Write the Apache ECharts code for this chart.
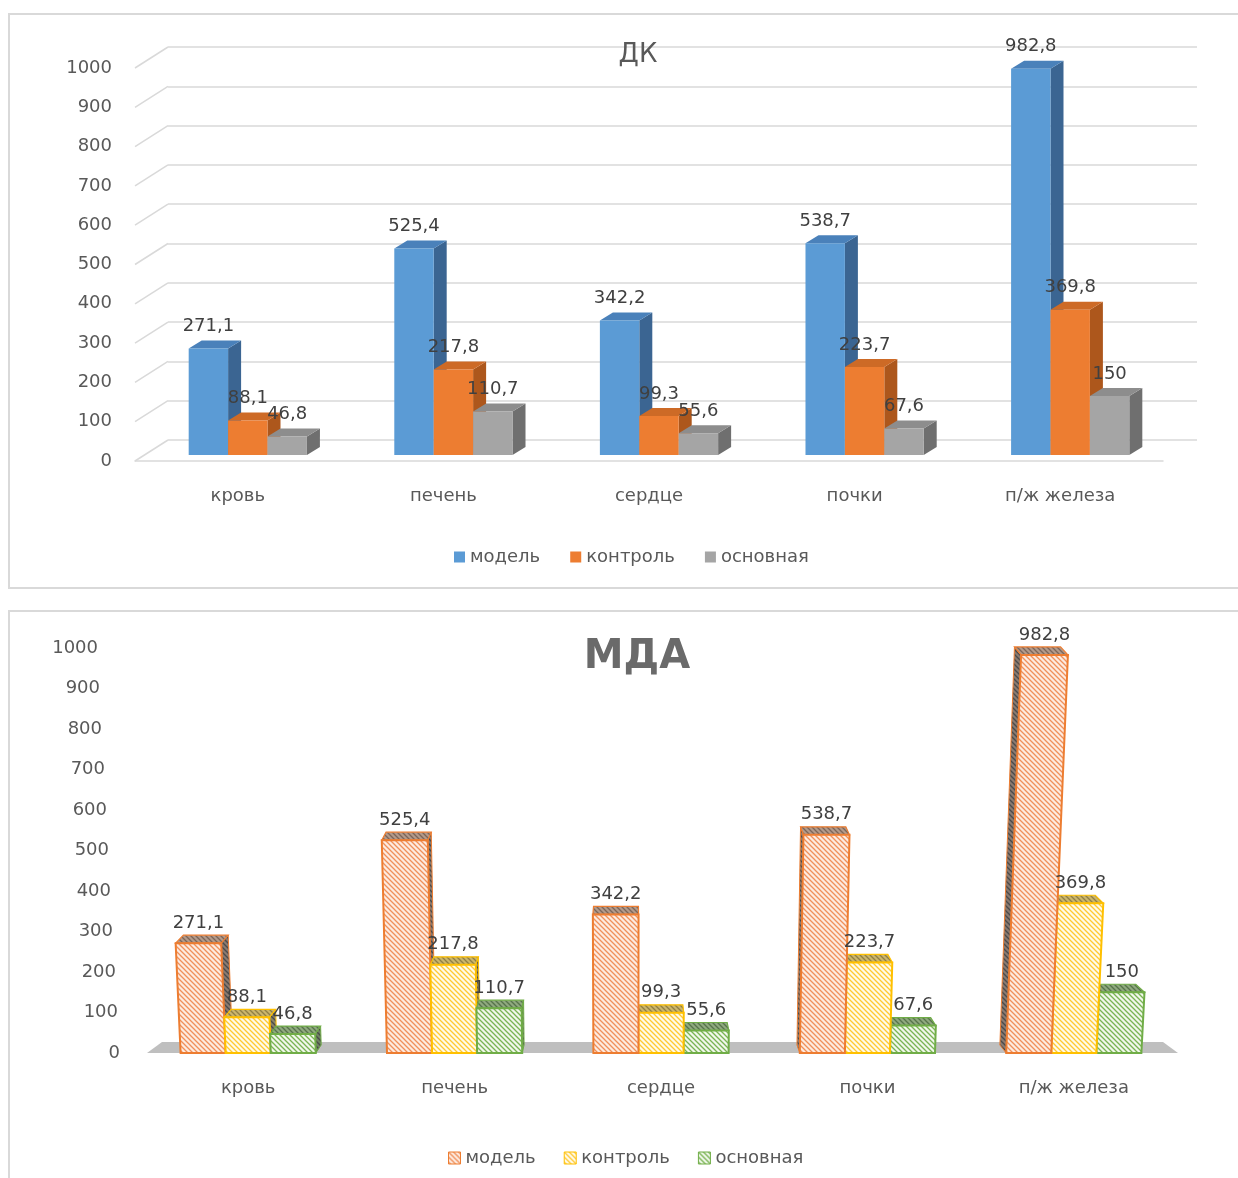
<!DOCTYPE html>
<html>
<head>
<meta charset="utf-8">
<script src="https://cdn.jsdelivr.net/npm/echarts@6/dist/echarts.min.js"></script>
<style>
  html, body { margin: 0; padding: 0; background: #fff; width: 1238px; height: 1178px; overflow: hidden; }
  .frame { position: absolute; border: 2px solid #d9d9d9; box-sizing: border-box; }
  #dk { position: absolute; left: 0; top: 0; width: 1238px; height: 600px; }
  #mda { position: absolute; left: 0; top: 600px; width: 1238px; height: 578px; }
</style>
</head>
<body>
<div class="frame" style="left:8px;top:13px;width:1250px;height:576px;"></div>
<div class="frame" style="left:8px;top:610px;width:1250px;height:590px;"></div>
<div id="dk"></div>
<div id="mda"></div>
<script>
// ---- data ----
const categories = ['кровь', 'печень', 'сердце', 'почки', 'п/ж железа'];
const seriesNames = ['модель', 'контроль', 'основная'];
const yTicks = [0, 100, 200, 300, 400, 500, 600, 700, 800, 900, 1000];

// ДК
const dkModel = [271.1, 525.4, 342.2, 538.7, 982.8];
const dkControl = [88.1, 217.8, 99.3, 223.7, 369.8];
const dkMain = [46.8, 110.7, 55.6, 67.6, 150];

// МДА
const mdaModel = [271.1, 525.4, 342.2, 538.7, 982.8];
const mdaControl = [88.1, 217.8, 99.3, 223.7, 369.8];
const mdaMain = [46.8, 110.7, 55.6, 67.6, 150];

// ---- shared styling ----
const FONT = '"DejaVu Sans", Verdana, sans-serif';
const TXT = '#595959';
const LABEL = '#404040';
const fmt = v => String(v).replace('.', ',');
const toPairs = arr => arr.map((v, i) => [i, v]);

function textEl(x, y, str, size) {
  return {
    type: 'text', z2: 100000,
    style: {
      x: x, y: y, text: str,
      align: 'center', verticalAlign: 'middle',
      textAlign: 'center', textVerticalAlign: 'middle',
      fill: LABEL, font: size + 'px ' + FONT
    }
  };
}

// =====================  ДК : plain 3D columns  =====================
const dkColors = [
  { front: '#5b9bd5', top: '#4a81ba', side: '#3b6592' },
  { front: '#ed7d31', top: '#cd6a26', side: '#ad571c' },
  { front: '#a5a5a5', top: '#8d8d8d', side: '#6f6f6f' }
];
const WALL_DX = 33, WALL_DY = -21;   // back wall offset
const BAR_DX = 10, BAR_DY = -6;      // bar row offset from the front edge
const DEPTH_DX = 13, DEPTH_DY = -8;  // column depth

function dkBar(si) {
  return function (params, api) {
    const cat = api.value(0), v = api.value(1);
    const p0 = api.coord([cat, 0]), p1 = api.coord([cat, v]);
    const w = api.size([1, 0])[0] * 0.575 / 3;
    const xl = p0[0] + BAR_DX - 1.5 * w + si * w, xr = xl + w;
    const yb = p0[1] + BAR_DY, yt = p1[1] + BAR_DY;
    const c = dkColors[si];
    return {
      type: 'group',
      children: [
        { type: 'polygon', shape: { points: [[xr, yb], [xr + DEPTH_DX, yb + DEPTH_DY], [xr + DEPTH_DX, yt + DEPTH_DY], [xr, yt]] }, style: { fill: c.side } },
        { type: 'polygon', shape: { points: [[xl, yt], [xr, yt], [xr + DEPTH_DX, yt + DEPTH_DY], [xl + DEPTH_DX, yt + DEPTH_DY]] }, style: { fill: c.top } },
        { type: 'rect', shape: { x: xl, y: yt, width: w, height: yb - yt }, style: { fill: c.front } },
        textEl((xl + xr) / 2, yt - 22, fmt(v), 18)
      ]
    };
  };
}

const dkChart = echarts.init(document.getElementById('dk'), null, { renderer: 'canvas' });
dkChart.setOption({
  animation: false,
  textStyle: { fontFamily: FONT },
  title: {
    text: 'ДК', left: 633, top: 37, textAlign: 'center',
    textStyle: { fontFamily: FONT, fontSize: 26, fontWeight: 'normal', color: TXT }
  },
  legend: {
    top: 543, left: 449, icon: 'rect', itemWidth: 11, itemHeight: 11, itemGap: 30,
    textStyle: { fontFamily: FONT, fontSize: 18, color: TXT },
    data: seriesNames
  },
  grid: [
    { left: 135, top: 68, width: 1028, height: 393 },   // front plane
    { left: 168, top: 47, width: 1029, height: 393 }    // back wall
  ],
  xAxis: [
    {
      gridIndex: 0, type: 'category', data: categories,
      axisLine: { lineStyle: { color: '#d9d9d9', width: 1.5 } },
      axisTick: { show: false },
      axisLabel: { margin: 26, fontSize: 18, color: TXT, fontFamily: FONT }
    },
    { gridIndex: 1, type: 'value', show: false }
  ],
  yAxis: [
    {
      gridIndex: 0, type: 'value', min: 0, max: 1000, interval: 100,
      axisLine: { show: false }, axisTick: { show: false }, splitLine: { show: false },
      axisLabel: { margin: 23, fontSize: 18, color: TXT, fontFamily: FONT, formatter: v => String(v) }
    },
    {
      gridIndex: 1, type: 'value', min: 0, max: 1000, interval: 100,
      axisLine: { show: false }, axisTick: { show: false }, axisLabel: { show: false },
      splitLine: { lineStyle: { color: '#d9d9d9', width: 1.5 } }
    }
  ],
  series: [
    {
      // slanted edges joining the left end of each gridline to the wall
      type: 'custom', name: 'edges', silent: true, z: 1,
      xAxisIndex: 0, yAxisIndex: 0,
      data: yTicks.map(t => [0, t]),
      renderItem: function (params, api) {
        const y = api.coord([0, api.value(1)])[1];
        const x = params.coordSys.x;
        return { type: 'line', shape: { x1: x, y1: y, x2: x + WALL_DX, y2: y + WALL_DY }, style: { stroke: '#d9d9d9', lineWidth: 1.5 } };
      }
    },
    { type: 'custom', name: seriesNames[0], xAxisIndex: 0, yAxisIndex: 0, itemStyle: { color: dkColors[0].front }, data: toPairs(dkModel), renderItem: dkBar(0) },
    { type: 'custom', name: seriesNames[1], xAxisIndex: 0, yAxisIndex: 0, itemStyle: { color: dkColors[1].front }, data: toPairs(dkControl), renderItem: dkBar(1) },
    { type: 'custom', name: seriesNames[2], xAxisIndex: 0, yAxisIndex: 0, itemStyle: { color: dkColors[2].front }, data: toPairs(dkMain), renderItem: dkBar(2) }
  ]
});

// =====================  МДА : hatched columns in perspective  =====================
function hatch(fg, bg) {
  const s = 5;
  const c = document.createElement('canvas');
  c.width = s; c.height = s;
  const g = c.getContext('2d');
  g.fillStyle = bg; g.fillRect(0, 0, s, s);
  g.strokeStyle = fg; g.lineWidth = 1.3;
  g.beginPath();
  g.moveTo(-1, -1); g.lineTo(s + 1, s + 1);
  g.moveTo(s - 1, -1); g.lineTo(s + 1, 1);
  g.moveTo(-1, s - 1); g.lineTo(1, s + 1);
  g.stroke();
  return { image: c, repeat: 'repeat' };
}

const mdaStyles = [
  { stroke: '#ed7d31', front: hatch('#f0905a', '#fdebe0'), top: hatch('#7c6558', '#b39a8b'), side: hatch('#4a4a4a', '#8a7a70') },
  { stroke: '#ffc000', front: hatch('#ffc933', '#fffbea'), top: hatch('#8f7f45', '#cbb66c'), side: hatch('#4a4a4a', '#8a8466') },
  { stroke: '#70ad47', front: hatch('#7ab453', '#f1f8ec'), top: hatch('#56734a', '#8fa97f'), side: hatch('#4a4a4a', '#6f8462') }
];

const CX = 633;          // horizontal vanishing centre
const LEAN = 1.0e-4;     // outward lean of tall columns
const DEPTH_S = 0.017;   // depth convergence toward the centre
const DEPTH_T = 8;       // vertical depth of the top face

function proj(x, h, d, yBase) {
  const xl = x + (x - CX) * h * LEAN;
  return [xl + (CX - xl) * DEPTH_S * d, yBase - h - DEPTH_T * d];
}

function mdaBar(si) {
  return function (params, api) {
    const cat = api.value(0), v = api.value(1);
    const p0 = api.coord([cat, 0]), p1 = api.coord([cat, v]);
    const w = api.size([1, 0])[0] * 0.655 / 3;
    const xl = p0[0] - 1.5 * w + si * w, xr = xl + w;
    const yb = p0[1], h = p0[1] - p1[1];
    const mid = (xl + xr) / 2;
    const st = mdaStyles[si];
    const xs = mid < CX ? xr : xl;
    const base = Math.round(2000 - Math.abs(mid - CX)) * 4;
    const P = (x, hh, d) => proj(x, hh, d, yb);
    const ft = P(mid, h, 0);
    return {
      type: 'group',
      children: [
        { type: 'polygon', z2: base, shape: { points: [P(xs, 0, 0), P(xs, h, 0), P(xs, h, 1), P(xs, 0, 1)] }, style: { fill: st.side, stroke: st.stroke, lineWidth: 1 } },
        { type: 'polygon', z2: base + 1, shape: { points: [P(xl, h, 0), P(xr, h, 0), P(xr, h, 1), P(xl, h, 1)] }, style: { fill: st.top, stroke: st.stroke, lineWidth: 1.2 } },
        { type: 'polygon', z2: base + 2, shape: { points: [P(xl, 0, 0), P(xr, 0, 0), P(xr, h, 0), P(xl, h, 0)] }, style: { fill: st.front, stroke: st.stroke, lineWidth: 2 } },
        textEl(ft[0], ft[1] - 20, fmt(v), 18)
      ]
    };
  };
}

const yRich = {};
yTicks.forEach(t => {
  yRich['t' + t] = { padding: [0, Math.round(22 * t / 1000), 0, 0], fontSize: 18, color: TXT, fontFamily: FONT };
});

const mdaChart = echarts.init(document.getElementById('mda'), null, { renderer: 'canvas' });
mdaChart.setOption({
  animation: false,
  textStyle: { fontFamily: FONT },
  title: {
    text: 'МДА', left: 632, top: 33, textAlign: 'center',
    textStyle: { fontFamily: FONT, fontSize: 40, fontWeight: 'bold', color: '#6a6a6a' }
  },
  legend: {
    top: 544, left: 443, icon: 'rect', itemWidth: 12, itemHeight: 12, itemGap: 28,
    textStyle: { fontFamily: FONT, fontSize: 18, color: TXT },
    data: seriesNames.map((n, i) => ({
      name: n,
      itemStyle: { color: mdaStyles[i].front, borderColor: mdaStyles[i].stroke, borderWidth: 1 }
    }))
  },
  grid: { left: 145, top: 48, width: 1032, height: 405 },
  xAxis: {
    type: 'category', data: categories,
    axisLine: { show: false }, axisTick: { show: false },
    axisLabel: { margin: 26, fontSize: 18, color: TXT, fontFamily: FONT }
  },
  yAxis: {
    type: 'value', min: 0, max: 1000, interval: 100,
    axisLine: { show: false }, axisTick: { show: false }, splitLine: { show: false },
    axisLabel: { margin: 25, formatter: v => '{t' + v + '|' + v + '}', rich: yRich }
  },
  series: [
    {
      // grey floor slab under the columns
      type: 'custom', name: 'floor', silent: true, z: 1,
      data: [[0, 0]],
      renderItem: function (params) {
        const cs = params.coordSys;
        const y0 = cs.y + cs.height;
        return {
          type: 'polygon',
          shape: { points: [[cs.x + 2, y0], [cs.x + 17, y0 - 11], [cs.x + cs.width - 14, y0 - 11], [cs.x + cs.width + 1, y0]] },
          style: { fill: '#bfbfbf' }
        };
      }
    },
    { type: 'custom', name: seriesNames[0], itemStyle: { color: mdaStyles[0].stroke }, data: toPairs(mdaModel), renderItem: mdaBar(0) },
    { type: 'custom', name: seriesNames[1], itemStyle: { color: mdaStyles[1].stroke }, data: toPairs(mdaControl), renderItem: mdaBar(1) },
    { type: 'custom', name: seriesNames[2], itemStyle: { color: mdaStyles[2].stroke }, data: toPairs(mdaMain), renderItem: mdaBar(2) }
  ]
});
</script>
</body>
</html>
